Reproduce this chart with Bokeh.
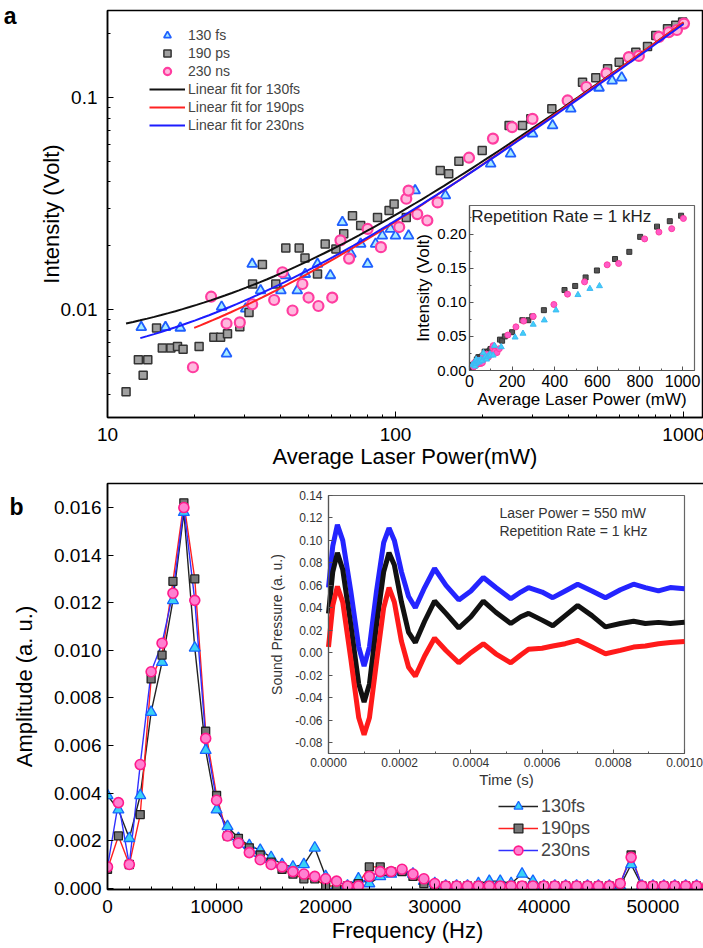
import numpy as np
from bokeh.plotting import figure
from bokeh.layouts import column
from bokeh.models import (Range1d, LinearScale, LinearAxis, FixedTicker, PrintfTickFormatter,
                          CustomJSTickFormatter, Legend, LegendItem, Label)
from bokeh.embed import file_html
from bokeh.resources import INLINE

FONT = "Liberation Sans"

# ---------------- panel a data: intensity vs average laser power ----------------
fs130_power = [13.1, 15.9, 17.9, 24.9, 25.9, 30.2, 31.8, 34.0, 40.0, 41.6, 45.6, 48.6, 53.6,
               59.4, 65.4, 70.0, 75.7, 80.0, 85.3, 90.0, 96.0, 100, 111, 117, 149, 214, 251,
               299, 351, 406, 509, 565, 610]
fs130_int = [0.00825, 0.00825, 0.0082, 0.0103, 0.0062, 0.0101, 0.0164, 0.0123, 0.0123, 0.0145,
             0.0123, 0.0147, 0.0164, 0.0145, 0.0258, 0.0183, 0.0204, 0.0164, 0.0204, 0.0223,
             0.0240, 0.0223, 0.0223, 0.0364, 0.0345, 0.0487, 0.0543, 0.0675, 0.0738, 0.0885,
             0.111, 0.120, 0.124]

ps190_power = [11.6, 12.8, 13.3, 13.8, 14.8, 15.5, 16.6, 17.5, 18.3, 20.8, 23.4, 24.7, 26.1,
               28.8, 31.0, 31.9, 34.5, 38.4, 41.6, 46.3, 48.5, 53.6, 57.0, 62.1, 66.1, 70.9,
               75.7, 86.6, 95.0, 98.9, 109, 143, 153, 166, 200, 248, 276, 295, 349, 446, 496,
               545, 598, 683, 750, 801, 880, 940, 993]
ps190_int = [0.0041, 0.0058, 0.0049, 0.0058, 0.0082, 0.0066, 0.0066, 0.0067, 0.0065, 0.0067,
             0.0074, 0.0074, 0.0077, 0.0083, 0.0097, 0.0132, 0.0163, 0.0132, 0.0195, 0.0195,
             0.0175, 0.0147, 0.0204, 0.0193, 0.0228, 0.0277, 0.0249, 0.0272, 0.0293, 0.0315,
             0.0272, 0.0453, 0.0437, 0.0500, 0.0562, 0.0738, 0.0738, 0.0793, 0.0885, 0.118,
             0.124, 0.1365, 0.1467, 0.1635, 0.174, 0.196, 0.211, 0.219, 0.227]

ns230_power = [19.8, 22.9, 25.9, 28.8, 31.8, 37.9, 40.5, 43.9, 47.5, 49.9, 54.0, 60.3, 64.4,
               69.0, 80.0, 89.0, 103, 109, 111, 119, 129, 140, 180, 218, 254, 299, 396, 460,
               540, 646, 700, 822, 889, 949, 1004]
ns230_int = [0.00535, 0.0115, 0.0086, 0.0087, 0.0106, 0.0111, 0.0150, 0.0099, 0.0132, 0.0114,
             0.0104, 0.0114, 0.0212, 0.0174, 0.0240, 0.0197, 0.0245, 0.0333, 0.0364, 0.0282,
             0.0263, 0.0320, 0.0520, 0.0640, 0.0725, 0.0793, 0.0968, 0.112, 0.130, 0.155,
             0.157, 0.193, 0.203, 0.208, 0.223]

fit_labels = ["Linear fit for 130fs", "Linear fit for 190ps", "Linear fit for 230ns"]
fit_colors = ["#111111", "#ff2222", "#1c1cff"]
fit_intercept = [0.00606, 0.00376, 0.00451]
fit_slope = [0.0002189, 0.0002222, 0.0002175]
fit_start = [11.6, 20.0, 13.0]
fit_end = [1000, 1000, 1000]

# ---------------- panel b data: amplitude spectrum ----------------
freq_hz = [0, 1000, 2000, 3000, 4000, 5000, 6000, 7000, 8000, 9000,
           10000, 11000, 12000, 13000, 14000, 15000, 16000, 17000, 18000, 19000,
           20000, 21000, 22000, 23000, 24000, 25000, 26000, 27000, 28000, 29000,
           30000, 31000, 32000, 33000, 34000, 35000, 36000, 37000, 38000, 39000,
           40000, 41000, 42000, 43000, 44000, 45000, 46000, 47000, 48000, 49000,
           50000, 51000, 52000, 53000, 54000, 55000]
amp_130fs = [0.0039, 0.0033, 0.0021, 0.0039, 0.0074, 0.0095, 0.0121, 0.0158, 0.0101, 0.0058,
             0.0033, 0.0026, 0.0021, 0.0018, 0.0016, 0.0013, 0.0010, 0.0009, 0.0010, 0.0017,
             0.0005, 0.0001, 0.0001, 0.0004, 0.0002, 0.0005, 0.0006, 0.0007, 0.0006, 0.0003,
             0.0002, 0.0001, 0.0001, 0.0001, 0.0002, 0.0003, 0.0003, 0.0002, 0.0006, 0.0003,
             0.0001, 0.0001, 0.0001, 0.0001, 0.0001, 0.0001, 0.0001, 0.0001, 0.0010, 0.0001,
             0.0001, 0.0001, 0.0001, 0.0001, 0.0001, 0.0001]
amp_190ps = [0.0008, 0.0022, 0.0010, 0.0031, 0.0088, 0.0098, 0.0129, 0.0162, 0.0130, 0.0066,
             0.0039, 0.0022, 0.0021, 0.0017, 0.0014, 0.0011, 0.0008, 0.0006, 0.0004, 0.0004,
             0.0001, 0.0001, 0.0001, 0.0002, 0.0009, 0.0009, 0.0007, 0.0007, 0.0005, 0.0002,
             0.0001, 0.0001, 0.0001, 0.0001, 0.0001, 0.0001, 0.0001, 0.0001, 0.0001, 0.0001,
             0.0001, 0.0001, 0.0001, 0.0001, 0.0001, 0.0001, 0.0001, 0.0002, 0.0014, 0.0001,
             0.0001, 0.0001, 0.0001, 0.0001, 0.0001, 0.0001]
amp_230ns = [0.0009, 0.0036, 0.0010, 0.0052, 0.0091, 0.0103, 0.0124, 0.0160, 0.0121, 0.0063,
             0.0037, 0.0022, 0.0019, 0.0015, 0.0012, 0.0010, 0.0009, 0.0007, 0.0006, 0.0005,
             0.0004, 0.0003, 0.0001, 0.0001, 0.0005, 0.0007, 0.0007, 0.0008, 0.0006, 0.0004,
             0.0002, 0.0001, 0.0001, 0.0001, 0.0001, 0.0001, 0.0001, 0.0001, 0.0001, 0.0001,
             0.0001, 0.0001, 0.0001, 0.0001, 0.0001, 0.0001, 0.0001, 0.0002, 0.0013, 0.0001,
             0.0001, 0.0001, 0.0001, 0.0001, 0.0001, 0.0001]

# ---------------- panel b inset: sound pressure vs time ----------------
time_s = [0, 0.000012, 0.000025, 0.00004, 0.0000625, 0.000085, 0.0001, 0.000115, 0.000135,
          0.000155, 0.00017, 0.000185, 0.000205, 0.000225, 0.000244, 0.00027, 0.000298,
          0.00033, 0.000366, 0.0004, 0.000435, 0.00047, 0.000512, 0.00054, 0.000562, 0.0006,
          0.00063, 0.000665, 0.0007, 0.00074, 0.000778, 0.00082, 0.000857, 0.00089, 0.000927,
          0.00096, 0.001]
sp_blue = [0.058, 0.095, 0.114, 0.100, 0.055, 0.005, -0.012, 0.005, 0.055, 0.098, 0.111, 0.100,
           0.072, 0.050, 0.040, 0.058, 0.075, 0.060, 0.047, 0.055, 0.067, 0.058, 0.048, 0.054,
           0.058, 0.054, 0.049, 0.055, 0.061, 0.055, 0.049, 0.056, 0.061, 0.058, 0.055, 0.058,
           0.057]
sp_black = [0.035, 0.072, 0.089, 0.074, 0.025, -0.028, -0.044, -0.028, 0.025, 0.072, 0.089,
            0.078, 0.045, 0.018, 0.009, 0.028, 0.046, 0.035, 0.022, 0.032, 0.046, 0.036, 0.026,
            0.032, 0.035, 0.029, 0.024, 0.033, 0.042, 0.033, 0.023, 0.026, 0.028, 0.026, 0.027,
            0.026, 0.027]
sp_red = [0.005, 0.042, 0.059, 0.045, -0.005, -0.058, -0.073, -0.058, -0.008, 0.040, 0.058,
          0.045, 0.010, -0.013, -0.021, -0.003, 0.013, 0.002, -0.009, 0.000, 0.008, -0.001,
          -0.009, -0.002, 0.003, 0.004, 0.006, 0.008, 0.011, 0.005, -0.001, 0.002, 0.005, 0.006,
          0.008, 0.009, 0.010]


def outer_range(d0, d1, p0, p1, total):
    """Range over the whole frame so that [d0, d1] lands on pixels [p0, p1]."""
    k = (d1 - d0) / (p1 - p0)
    return Range1d(start=d0 - p0 * k, end=d1 + (total - p1) * k)


def px_to_data(rng, px, total):
    return rng.start + (rng.end - rng.start) * px / total


def style_axis(ax, tick_size, label_size, tick_in=6, minor_in=3, color="black",
               label_standoff=5, title_standoff=5, line_color="black", line_width=1.5):
    ax.major_tick_in = tick_in
    ax.major_tick_out = 0
    ax.minor_tick_in = minor_in
    ax.minor_tick_out = 0
    ax.major_tick_line_color = line_color
    ax.minor_tick_line_color = line_color
    ax.axis_line_color = line_color
    ax.axis_line_width = line_width
    ax.major_label_text_font = FONT
    ax.major_label_text_font_size = tick_size
    ax.major_label_text_color = color
    ax.axis_label_text_font = FONT
    ax.axis_label_text_font_size = label_size
    ax.axis_label_text_font_style = "normal"
    ax.axis_label_text_color = color
    ax.major_label_standoff = label_standoff
    ax.axis_label_standoff = title_standoff


def panel_letter(p, letter, yr, fh, py_from_bottom, standoff):
    """Panel letter: single tick label of an extra, invisible left axis stacked outside."""
    yd = px_to_data(p.extra_y_ranges[yr], py_from_bottom, fh)
    ax = LinearAxis(y_range_name=yr,
                    ticker=FixedTicker(ticks=[yd], minor_ticks=[]),
                    formatter=CustomJSTickFormatter(code="return '%s';" % letter))
    ax.axis_line_color = None
    ax.major_tick_line_color = None
    ax.minor_tick_line_color = None
    ax.major_tick_in = 0
    ax.major_tick_out = 0
    ax.minor_tick_in = 0
    ax.minor_tick_out = 0
    ax.major_label_standoff = standoff
    ax.major_label_text_font = FONT
    ax.major_label_text_font_size = "23px"
    ax.major_label_text_font_style = "bold"
    ax.major_label_text_color = "black"
    p.add_layout(ax, "left")


# =========================== PANEL A ===========================
FWA, FHA = 595, 407
pa = figure(frame_width=FWA, frame_height=FHA, x_axis_type="log", y_axis_type="log",
            x_range=Range1d(10, 1164), y_range=Range1d(0.0031, 0.257),
            output_backend="svg", toolbar_location=None,
            min_border_left=105, min_border_right=3, min_border_top=10, min_border_bottom=65)
pa.xgrid.visible = False
pa.ygrid.visible = False
pa.outline_line_color = "black"
pa.outline_line_width = 1.5
pa.background_fill_color = "white"

xa = pa.xaxis[0]
xa.ticker = FixedTicker(ticks=[10, 100, 1000],
                        minor_ticks=[20, 30, 40, 50, 60, 70, 80, 90, 200, 300, 400, 500, 600,
                                     700, 800, 900])
xa.formatter = CustomJSTickFormatter(code="return tick.toString();")
xa.axis_label = "Average Laser Power(mW)"
style_axis(xa, "19px", "22px", label_standoff=10, title_standoff=0)

ya = pa.yaxis[0]
ya.ticker = FixedTicker(ticks=[0.01, 0.1],
                        minor_ticks=[0.004, 0.005, 0.006, 0.007, 0.008, 0.009, 0.02, 0.03, 0.04,
                                     0.05, 0.06, 0.07, 0.08, 0.09, 0.2])
ya.formatter = CustomJSTickFormatter(code="return tick.toString();")
ya.axis_label = "Intensity (Volt)"
style_axis(ya, "19px", "22px", label_standoff=10, title_standoff=-6)

# inset (linear) coordinate system placed inside the log frame
pa.extra_x_ranges = {"ix": outer_range(0, 1056, 362, 587, FWA)}
pa.extra_y_ranges = {"iy": outer_range(0, 0.242, 47, 212, FHA)}
pa.extra_x_scales = {"ix": LinearScale()}
pa.extra_y_scales = {"iy": LinearScale()}

pa.quad(left=[0], right=[1056], bottom=[0], top=[0.242], x_range_name="ix", y_range_name="iy",
        fill_color="white", line_color="#666666", line_width=1.2)

# main scatter
r_tri = pa.scatter(fs130_power, fs130_int, marker="triangle", size=10, fill_color="#a8ecff",
                   line_color="#1f5fff", line_width=1.8)
r_sq = pa.scatter(ps190_power, ps190_int, marker="square", size=8, fill_color="#a0a0a0",
                  line_color="#333333", line_width=1.5)
r_ci = pa.scatter(ns230_power, ns230_int, marker="circle", size=10, fill_color="#ffb8de",
                  line_color="#ff3da0", line_width=2.2)

fit_renderers = []
for lab, col, a0, b1, s0, s1 in zip(fit_labels, fit_colors, fit_intercept, fit_slope,
                                     fit_start, fit_end):
    pw = np.geomspace(s0, s1, 80)
    fit_renderers.append(pa.line(pw, a0 + b1 * pw, line_color=col, line_width=2))

# inset scatter (same data, linear axes)
pa.scatter(ps190_power, ps190_int, marker="square", size=5, fill_color="#555555",
           line_color="#333333", x_range_name="ix", y_range_name="iy")
pa.scatter(ns230_power, ns230_int, marker="circle", size=6, fill_color="#ff5ac8",
           line_color="#ff3da0", x_range_name="ix", y_range_name="iy")
pa.scatter(fs130_power, fs130_int, marker="triangle", size=6, fill_color="#3fd0f5",
           line_color="#3fb8f5", x_range_name="ix", y_range_name="iy")

ia_x = LinearAxis(x_range_name="ix", y_range_name="iy", fixed_location=0, bounds=(0, 1056),
                  ticker=FixedTicker(ticks=[0, 200, 400, 600, 800, 1000],
                                     minor_ticks=[100, 300, 500, 700, 900]),
                  axis_label="Average Laser Power (mW)")
style_axis(ia_x, "16px", "17px", tick_in=4, minor_in=2, label_standoff=4, title_standoff=0,
           line_color="#555555", line_width=1.2)
pa.add_layout(ia_x, "below")
ia_y = LinearAxis(x_range_name="ix", y_range_name="iy", fixed_location=0, bounds=(0, 0.242),
                  ticker=FixedTicker(ticks=[0, 0.05, 0.10, 0.15, 0.20],
                                     minor_ticks=[0.025, 0.075, 0.125, 0.175, 0.225]),
                  formatter=PrintfTickFormatter(format="%.2f"),
                  axis_label="Intensity (Volt)")
style_axis(ia_y, "15px", "17px", tick_in=4, minor_in=2, label_standoff=3, title_standoff=1,
           line_color="#555555", line_width=1.2)
pa.add_layout(ia_y, "left")

pa.add_layout(Label(x=8, y=0.226, x_range_name="ix", y_range_name="iy",
                    text="Repetition Rate = 1 kHz", text_font=FONT, text_font_size="17px",
                    text_baseline="middle", text_color="#222222"))

leg_a = Legend(items=[LegendItem(label="130 fs", renderers=[r_tri]),
                      LegendItem(label="190 ps", renderers=[r_sq]),
                      LegendItem(label="230 ns", renderers=[r_ci])] +
                     [LegendItem(label=l, renderers=[r]) for l, r in zip(fit_labels, fit_renderers)],
               location=(42, 283), glyph_width=36, glyph_height=18, label_height=18,
               spacing=0, padding=0, margin=0, label_standoff=3,
               label_text_font=FONT, label_text_font_size="14px",
               border_line_color=None, background_fill_alpha=0)
pa.add_layout(leg_a)

panel_letter(pa, "a", "iy", FHA, 417 - 15, 19)

# =========================== PANEL B ===========================
FWB, FHB = 600, 406
pb = figure(frame_width=FWB, frame_height=FHB, x_range=Range1d(0, 55000),
            y_range=Range1d(-0.00005, 0.01701), output_backend="svg", toolbar_location=None,
            min_border_left=102, min_border_right=1, min_border_top=1, min_border_bottom=59)
pb.xgrid.visible = False
pb.ygrid.visible = False
pb.outline_line_color = "black"
pb.outline_line_width = 1.5

xb = pb.xaxis[0]
xb.ticker = FixedTicker(ticks=[0, 10000, 20000, 30000, 40000, 50000],
                        minor_ticks=[2000, 4000, 6000, 8000, 12000, 14000, 16000, 18000, 22000,
                                     24000, 26000, 28000, 32000, 34000, 36000, 38000, 42000,
                                     44000, 46000, 48000, 52000, 54000])
xb.formatter = PrintfTickFormatter(format="%d")
xb.axis_label = "Frequency (Hz)"
style_axis(xb, "19px", "22px", label_standoff=10, title_standoff=2)

yb = pb.yaxis[0]
yb.ticker = FixedTicker(ticks=[0, 0.002, 0.004, 0.006, 0.008, 0.010, 0.012, 0.014, 0.016],
                        minor_ticks=[])
yb.formatter = PrintfTickFormatter(format="%.3f")
yb.axis_label = "Amplitude (a. u.)"
style_axis(yb, "19px", "22px", label_standoff=6, title_standoff=14)

pb.extra_x_ranges = {"ix": outer_range(0, 0.001, 221, 577, FWB)}
pb.extra_y_ranges = {"iy": outer_range(-0.0898, 0.14, 136, 394, FHB)}

pb.quad(left=[0], right=[0.001], bottom=[-0.0898], top=[0.14], x_range_name="ix",
        y_range_name="iy", fill_color="white", line_color="#666666", line_width=1.2)
pb.line(time_s, sp_blue, line_color="#2424ff", line_width=5, x_range_name="ix", y_range_name="iy")
pb.line(time_s, sp_black, line_color="#111111", line_width=5, x_range_name="ix", y_range_name="iy")
pb.line(time_s, sp_red, line_color="#ff1a1a", line_width=5, x_range_name="ix", y_range_name="iy")

ib_x = LinearAxis(x_range_name="ix", y_range_name="iy", fixed_location=-0.0898, bounds=(0, 0.001),
                  ticker=FixedTicker(ticks=[0, 0.0002, 0.0004, 0.0006, 0.0008, 0.0010],
                                     minor_ticks=[0.0001, 0.0003, 0.0005, 0.0007, 0.0009]),
                  formatter=PrintfTickFormatter(format="%.4f"), axis_label="Time (s)")
style_axis(ib_x, "12px", "15px", tick_in=4, minor_in=2, label_standoff=4, title_standoff=1,
           color="#333333", line_color="#555555", line_width=1.2)
pb.add_layout(ib_x, "below")
ib_y = LinearAxis(x_range_name="ix", y_range_name="iy", fixed_location=0, bounds=(-0.0898, 0.14),
                  ticker=FixedTicker(ticks=[-0.08, -0.06, -0.04, -0.02, 0.0, 0.02, 0.04, 0.06,
                                            0.08, 0.10, 0.12, 0.14], minor_ticks=[]),
                  formatter=PrintfTickFormatter(format="%.2f"), axis_label="Sound Pressure (a. u.)")
style_axis(ib_y, "12px", "14px", tick_in=4, minor_in=2, label_standoff=6, title_standoff=7,
           color="#333333", line_color="#555555", line_width=1.2)
pb.add_layout(ib_y, "left")

for txt, yy in [("Laser Power = 550 mW", 0.124), ("Repetition Rate = 1 kHz", 0.108)]:
    pb.add_layout(Label(x=0.00048, y=yy, x_range_name="ix", y_range_name="iy", text=txt,
                        text_font=FONT, text_font_size="14px", text_baseline="middle",
                        text_color="#333333"))

# main spectrum
l130 = pb.line(freq_hz, amp_130fs, line_color="#222222", line_width=1.4)
l190 = pb.line(freq_hz, amp_190ps, line_color="#ff2020", line_width=1.4)
l230 = pb.line(freq_hz, amp_230ns, line_color="#3030ff", line_width=1.4)
s130 = pb.scatter(freq_hz, amp_130fs, marker="triangle", size=11, fill_color="#3ad2f5",
                  line_color="#1565ff", line_width=1.3)
s190 = pb.scatter(freq_hz, amp_190ps, marker="square", size=8, fill_color="#777777",
                  line_color="#222222", line_width=1.3)
s230 = pb.scatter(freq_hz, amp_230ns, marker="circle", size=10, fill_color="#ff80d0",
                  line_color="#ff1a8c", line_width=1.6)

leg_b = Legend(items=[LegendItem(label="130fs", renderers=[l130, s130]),
                      LegendItem(label="190ps", renderers=[l190, s190]),
                      LegendItem(label="230ns", renderers=[l230, s230])],
               location=(335, 28), glyph_width=40, glyph_height=22, label_height=22,
               spacing=0, padding=0, margin=0, label_standoff=3,
               label_text_font=FONT, label_text_font_size="18px",
               border_line_color=None, background_fill_alpha=0)
pb.add_layout(leg_b)

panel_letter(pb, "b", "iy", FHB, 405.5, -15)

layout = column(pa, pb, spacing=0)
open("out.html", "w").write(file_html(layout, INLINE))
